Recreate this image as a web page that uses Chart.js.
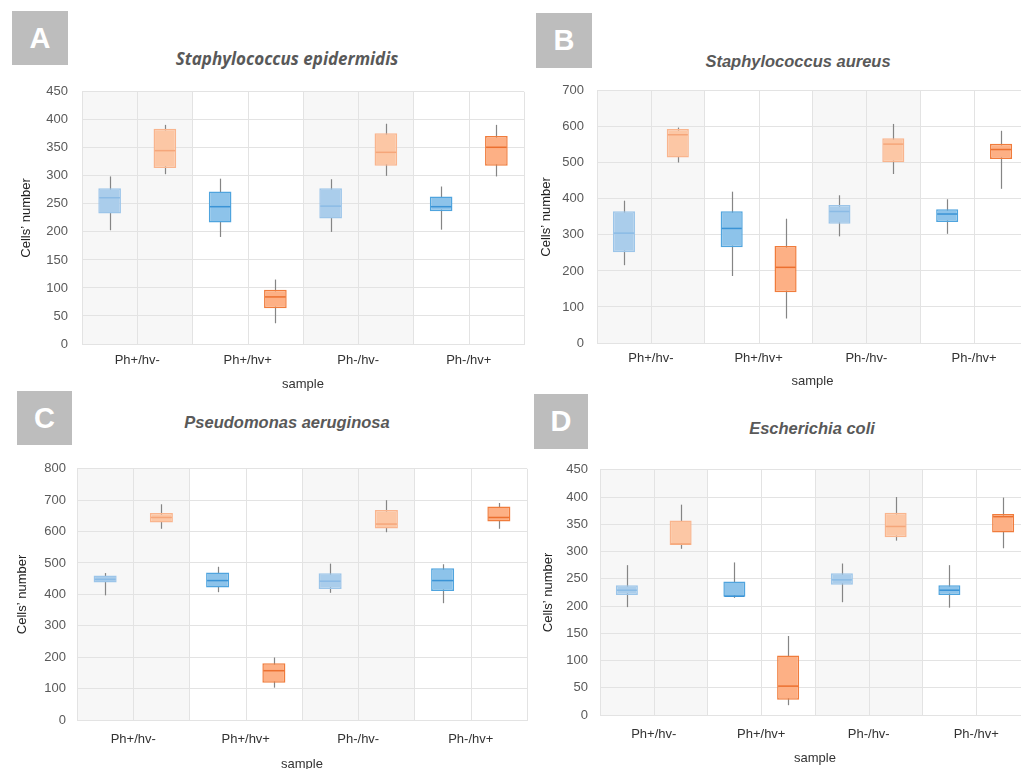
<!DOCTYPE html>
<html>
<head>
<meta charset="utf-8">
<script src="https://cdn.jsdelivr.net/npm/chart.js@4.4.1/dist/chart.umd.min.js"></script>
<style>
  html, body { margin: 0; padding: 0; background: #fff; overflow: hidden; width: 1021px; height: 769px; }
  .panel { position: absolute; }
  .badge {
    position: absolute; background: #bdbdbd; color: #fff;
    font: bold 29px "Liberation Sans", Arial, sans-serif;
    display: flex; align-items: center; justify-content: center;
  }
  .species {
    position: absolute; transform: translate(-50%, -50%); white-space: nowrap;
    color: #595959; font-weight: bold; font-style: italic; font-size: 16.5px;
    font-family: "Liberation Sans", Arial, sans-serif;
  }
</style>
</head>
<body>

<div class="badge" style="left:12px;top:11px;width:56px;height:54px;">A</div>
<div class="species" style="left:287px;top:58px;font-family:'Open Sans',sans-serif;font-size:17px;">Staphylococcus epidermidis</div>
<div class="panel" style="left:0px;top:70px;"><canvas id="chartA" width="528" height="322"></canvas></div>

<div class="badge" style="left:536px;top:13px;width:56px;height:55px;">B</div>
<div class="species" style="left:798px;top:61px;">Staphylococcus aureus</div>
<div class="panel" style="left:530px;top:70px;"><canvas id="chartB" width="500" height="322"></canvas></div>

<div class="badge" style="left:17px;top:391px;width:55px;height:54px;">C</div>
<div class="species" style="left:287px;top:422px;">Pseudomonas aeruginosa</div>
<div class="panel" style="left:0px;top:450px;"><canvas id="chartC" width="528" height="322"></canvas></div>

<div class="badge" style="left:534px;top:394px;width:54px;height:55px;">D</div>
<div class="species" style="left:812px;top:428px;">Escherichia coli</div>
<div class="panel" style="left:530px;top:450px;"><canvas id="chartD" width="500" height="322"></canvas></div>

<script>
// sample groups on the x axis
const samples = ['Ph+/hv-', 'Ph+/hv+', 'Ph-/hv-', 'Ph-/hv+'];

// five-number summaries per sample: [min, q1, median, q3, max]
const epidermidisBlue = [[203, 233, 261, 278, 299], [191, 217, 245, 272, 295], [200, 224, 246, 278, 294], [204, 237, 245, 263, 281]];
const epidermidisOrange = [[303, 314, 345, 384, 391], [37, 64, 84, 97, 115], [300, 318, 342, 376, 393], [299, 318, 351, 371, 391]];

const aureusBlue = [[216, 252, 305, 366, 395], [186, 266, 318, 366, 420], [296, 331, 365, 383, 410], [303, 336, 358, 371, 399]];
const aureusOrange = [[501, 515, 578, 594, 598], [68, 141, 210, 269, 345], [469, 502, 552, 568, 608], [428, 511, 537, 553, 589]];

const aeruginosaBlue = [[397, 438, 448, 460, 468], [407, 422, 444, 470, 488], [405, 417, 442, 467, 498], [372, 411, 444, 483, 496]];
const aeruginosaOrange = [[609, 629, 645, 659, 687], [103, 119, 157, 181, 199], [598, 610, 624, 669, 700], [609, 632, 645, 680, 691]];

const coliBlue = [[198, 220, 229, 238, 275], [215, 217, 218, 245, 280], [207, 239, 248, 260, 278], [197, 220, 229, 238, 275]];
const coliOrange = [[305, 312, 314, 357, 386], [18, 28, 53, 109, 145], [320, 326, 346, 371, 400], [306, 335, 364, 369, 399]];

// light shades for hv-, stronger shades for hv+
const blueFill = ['#aacdeb', '#8dc3ea', '#aacdeb', '#8dc3ea'];
const blueEdge = ['#9cc5e9', '#4fa4de', '#9cc5e9', '#4fa4de'];
const blueMedian = ['#8bbbe5', '#3a93d6', '#8bbbe5', '#3a93d6'];
const orangeFill = ['#fcc7a5', '#fdb085', '#fcc7a5', '#fdb085'];
const orangeEdge = ['#f9b58e', '#f07c3c', '#f9b58e', '#f07c3c'];
const orangeMedian = ['#f5a67a', '#ec7030', '#f5a67a', '#ec7030'];

const gridColor = '#e3e3e3';
const shadeColor = '#f7f7f7';
const whiskerColor = '#858585';

// shaded bands behind Ph+/hv- and Ph-/hv-, plus the divider inside every group
const columnBands = {
    id: 'columnBands',
    beforeDraw(chart) {
        const {ctx, chartArea, scales: {x}} = chart;
        const half = (x.getPixelForValue(1) - x.getPixelForValue(0)) / 2;
        ctx.save();
        ctx.fillStyle = shadeColor;
        [0, 2].forEach(i => {
            const c = x.getPixelForValue(i);
            ctx.fillRect(c - half, chartArea.top, half * 2, chartArea.bottom - chartArea.top);
        });
        ctx.restore();
    },
    beforeDatasetsDraw(chart) {
        const {ctx, chartArea, scales: {x}} = chart;
        ctx.save();
        ctx.strokeStyle = gridColor;
        ctx.lineWidth = 1;
        samples.forEach((s, i) => {
            const c = Math.round(x.getPixelForValue(i)) + 0.5;
            ctx.beginPath();
            ctx.moveTo(c, chartArea.top);
            ctx.lineTo(c, chartArea.bottom);
            ctx.stroke();
        });
        ctx.restore();
    }
};

// whiskers under the boxes, medians on top of them
const boxPlotLines = {
    id: 'boxPlotLines',
    beforeDatasetsDraw(chart) {
        const {ctx, scales: {y}} = chart;
        ctx.save();
        ctx.strokeStyle = whiskerColor;
        ctx.lineWidth = 1.2;
        chart.data.datasets.forEach((ds, i) => {
            chart.getDatasetMeta(i).data.forEach((bar, j) => {
                const [lo, , , , hi] = ds.stats[j];
                const bx = Math.round(bar.x) + 0.5;
                ctx.beginPath();
                ctx.moveTo(bx, y.getPixelForValue(lo));
                ctx.lineTo(bx, y.getPixelForValue(hi));
                ctx.stroke();
            });
        });
        ctx.restore();
    },
    afterDatasetsDraw(chart) {
        const {ctx, scales: {y}} = chart;
        ctx.save();
        ctx.lineWidth = 1.5;
        chart.data.datasets.forEach((ds, i) => {
            chart.getDatasetMeta(i).data.forEach((bar, j) => {
                const my = y.getPixelForValue(ds.stats[j][2]);
                ctx.strokeStyle = ds.medianColor[j];
                ctx.beginPath();
                ctx.moveTo(bar.x - bar.width / 2 + 1, my);
                ctx.lineTo(bar.x + bar.width / 2 - 1, my);
                ctx.stroke();
            });
        });
        ctx.restore();
    }
};

function boxDataset(stats, fill, edge, median) {
    return {
        data: stats.map(s => [s[1], s[3]]),
        stats: stats,
        medianColor: median,
        backgroundColor: fill,
        borderColor: edge,
        borderWidth: 1.5,
        borderSkipped: false,
        barPercentage: 0.41,
        categoryPercentage: 1
    };
}

function drawPanel(id, blue, orange, yMax, yStep, box) {
    const ctx = document.getElementById(id).getContext('2d');
    return new Chart(ctx, {
        type: 'bar',
        data: {
            labels: samples,
            datasets: [
                boxDataset(blue, blueFill, blueEdge, blueMedian),
                boxDataset(orange, orangeFill, orangeEdge, orangeMedian)
            ]
        },
        options: {
            responsive: false,
            animation: false,
            layout: {padding: {top: box.top, right: box.right, left: 0, bottom: 0}},
            plugins: {
                legend: {display: false},
                tooltip: {enabled: false}
            },
            scales: {
                x: {
                    grid: {color: gridColor, drawTicks: false, offset: true},
                    border: {color: gridColor},
                    ticks: {color: '#333', font: {family: 'Liberation Sans', size: 13}, padding: box.labelPad},
                    title: {display: true, text: 'sample', color: '#333',
                        font: {family: 'Liberation Sans', size: 13}, padding: {top: 0, bottom: box.titlePad}},
                    afterFit: s => { s.height = box.xHeight; }
                },
                y: {
                    min: 0,
                    max: yMax,
                    grid: {color: gridColor, drawTicks: false},
                    border: {color: gridColor},
                    ticks: {stepSize: yStep, color: '#595959', font: {family: 'Liberation Sans', size: 13}, padding: box.tickPad},
                    title: {display: true, text: 'Cells\u2019 number', color: '#222',
                        font: {family: 'Liberation Sans', size: 13}, padding: {top: box.yTitlePad, bottom: 0}},
                    afterFit: s => { s.width = box.yWidth; }
                }
            }
        },
        plugins: [columnBands, boxPlotLines]
    });
}

drawPanel('chartA', epidermidisBlue, epidermidisOrange, 450, 50,
    {top: 13, right: 4, yWidth: 82, xHeight: 48, labelPad: 9, titlePad: 0, tickPad: 14, yTitlePad: 19});
drawPanel('chartB', aureusBlue, aureusOrange, 700, 100,
    {top: 14, right: 2, yWidth: 67, xHeight: 49, labelPad: 8, titlePad: 3, tickPad: 13, yTitlePad: 9});
drawPanel('chartC', aeruginosaBlue, aeruginosaOrange, 800, 100,
    {top: 12, right: 1, yWidth: 77, xHeight: 52, labelPad: 12, titlePad: 0, tickPad: 11, yTitlePad: 15});
drawPanel('chartD', coliBlue, coliOrange, 450, 50,
    {top: 15, right: 0, yWidth: 70, xHeight: 57, labelPad: 12, titlePad: 6, tickPad: 12, yTitlePad: 11});
</script>
</body>
</html>
